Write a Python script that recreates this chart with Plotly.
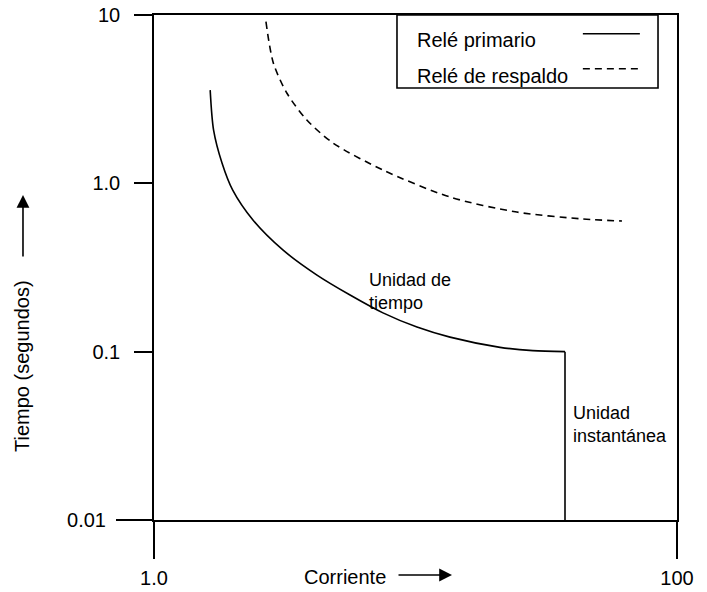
import plotly.graph_objects as go

# Time-current characteristics (current in multiples, time in seconds)
primary_current = [1.64, 1.69, 1.82, 2.0, 2.39, 3.11, 4.20, 5.62, 7.51, 10.13, 13.55, 21.05, 28.1, 37.3]
primary_time = [3.58, 2.07, 1.32, 0.91, 0.605, 0.402, 0.285, 0.217, 0.170, 0.140, 0.122, 0.1061, 0.1014, 0.1]

# Instantaneous unit: vertical drop at the pickup current
inst_current = [37.3, 37.3]
inst_time = [0.1, 0.01]

backup_current = [2.68, 2.86, 3.22, 3.84, 4.84, 7.51, 13.55, 24.4, 43.7, 61.6]
backup_time = [9.12, 5.19, 3.44, 2.38, 1.735, 1.2, 0.829, 0.675, 0.614, 0.597]

x_ticks = [1, 100]
x_tick_text = ["1.0", "100"]
y_ticks = [0.1, 1, 10]
y_tick_text = ["0.1", "1.0", "10"]
y_low_tick = [0.01]
y_low_text = ["0.01"]

FONT = "Liberation Sans, Arial, sans-serif"
LW = 1.6

fig = go.Figure()
fig.add_trace(go.Scatter(x=primary_current, y=primary_time, mode="lines",
                         line=dict(color="black", width=LW, shape="spline", smoothing=0.8),
                         showlegend=False, hoverinfo="skip"))
fig.add_trace(go.Scatter(x=inst_current, y=inst_time, mode="lines",
                         line=dict(color="black", width=LW),
                         showlegend=False, hoverinfo="skip"))
fig.add_trace(go.Scatter(x=backup_current, y=backup_time, mode="lines",
                         line=dict(color="black", width=LW, shape="spline", smoothing=0.8,
                                   dash="7px,5px"),
                         showlegend=False, hoverinfo="skip"))
# invisible trace that carries the long 0.01 tick on an overlaid axis
fig.add_trace(go.Scatter(x=[1], y=[0.01], yaxis="y2", mode="markers",
                         marker=dict(opacity=0), showlegend=False, hoverinfo="skip"))

fig.update_layout(
    width=707, height=592,
    margin=dict(l=154, r=30, t=15, b=72, autoexpand=False),
    paper_bgcolor="white", plot_bgcolor="white",
    font=dict(family=FONT, size=20, color="black"),
    xaxis=dict(type="log", range=[0, 2], showgrid=False, zeroline=False,
               showline=True, linecolor="black", linewidth=LW, mirror=True,
               ticks="outside", ticklen=37, tickwidth=LW, tickcolor="black",
               tickvals=x_ticks, ticktext=x_tick_text, tickfont=dict(size=20),
               ticklabelstandoff=2, automargin=False),
    yaxis=dict(type="log", range=[-2, 1], showgrid=False, zeroline=False,
               showline=True, linecolor="black", linewidth=LW, mirror=True,
               ticks="outside", ticklen=18, tickwidth=LW, tickcolor="black",
               tickvals=y_ticks, ticktext=y_tick_text, tickfont=dict(size=20),
               ticklabelstandoff=10, automargin=False),
    yaxis2=dict(type="log", range=[-2, 1], overlaying="y", side="left", anchor="x",
                showgrid=False, zeroline=False, showline=False,
                ticks="outside", ticklen=37, tickwidth=LW, tickcolor="black",
                tickvals=y_low_tick, ticktext=y_low_text, tickfont=dict(size=20),
                ticklabelstandoff=6, automargin=False),
)

# Legend box drawn by hand: text on the left, line sample on the right
fig.add_shape(type="rect", xref="paper", yref="paper",
              x0=0.4646, x1=0.9637, y0=0.8554, y1=1.0,
              line=dict(color="black", width=LW), fillcolor="white", layer="above")
fig.add_shape(type="line", xref="paper", yref="paper",
              x0=0.820, x1=0.929, y0=0.963, y1=0.963,
              line=dict(color="black", width=LW))
fig.add_shape(type="line", xref="paper", yref="paper",
              x0=0.820, x1=0.929, y0=0.8935, y1=0.8935,
              line=dict(color="black", width=LW, dash="7px,5px"))
fig.add_annotation(text="Relé primario", xref="paper", yref="paper",
                   x=0.4990, y=0.951, xanchor="left", yanchor="middle",
                   showarrow=False, font=dict(size=20))
fig.add_annotation(text="Relé de respaldo", xref="paper", yref="paper",
                   x=0.4990, y=0.880, xanchor="left", yanchor="middle",
                   showarrow=False, font=dict(size=20))

# Curve labels
fig.add_annotation(text="Unidad de<br>tiempo", xref="paper", yref="paper",
                   x=0.4073, y=0.50, xanchor="left", yanchor="top", align="left",
                   showarrow=False, font=dict(size=18))
fig.add_annotation(text="Unidad<br>instantánea", xref="paper", yref="paper",
                   x=0.7973, y=0.236, xanchor="left", yanchor="top", align="left",
                   showarrow=False, font=dict(size=18))

# Axis titles with direction arrows
fig.add_annotation(text="Tiempo (segundos)", xref="paper", yref="paper",
                   x=-0.2524, y=0.305, xanchor="center", yanchor="middle",
                   textangle=-90, showarrow=False, font=dict(size=20))
fig.add_annotation(text="", xref="paper", yref="paper", x=-0.2505, y=0.6436,
                   ax=0, ay=63, showarrow=True, arrowhead=2, arrowsize=1.6,
                   arrowwidth=1.6, arrowcolor="black")
fig.add_annotation(text="Corriente", xref="paper", yref="paper",
                   x=0.3652, y=-0.1129, xanchor="center", yanchor="middle",
                   showarrow=False, font=dict(size=20))
fig.add_annotation(text="", xref="paper", yref="paper", x=0.5698, y=-0.1089,
                   ax=-55, ay=0, showarrow=True, arrowhead=2, arrowsize=1.6,
                   arrowwidth=1.6, arrowcolor="black")

fig.write_html("out.html")
